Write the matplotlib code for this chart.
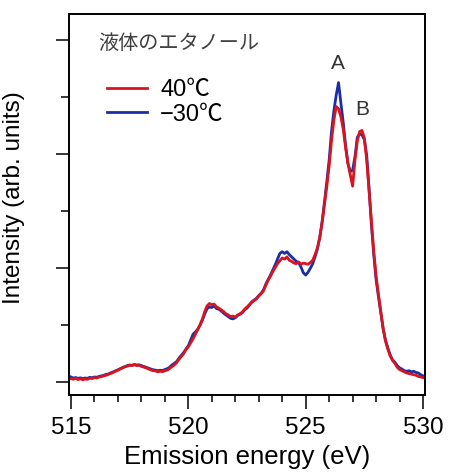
import numpy as np
import matplotlib
matplotlib.use("Agg")
import matplotlib.pyplot as plt
from matplotlib.ticker import MultipleLocator

plt.rcParams['font.family'] = ['Liberation Sans', 'Noto Sans CJK JP', 'DejaVu Sans']

# energy grid, 0.1 eV steps (515 .. 530)
energy = np.linspace(515, 530, 151)

# 40 C spectrum
warm = [
    0.030, 0.025, 0.035, 0.022, 0.030, 0.020, 0.028, 0.024, 0.035, 0.030,
    0.040, 0.036, 0.045, 0.048, 0.055, 0.060, 0.068, 0.075, 0.085, 0.095,
    0.105, 0.115, 0.125, 0.135, 0.140, 0.148, 0.145, 0.152, 0.145, 0.148,
    0.138, 0.132, 0.125, 0.115, 0.108, 0.100, 0.098, 0.090, 0.095, 0.092,
    0.100, 0.105, 0.120, 0.135, 0.150, 0.170, 0.200, 0.225, 0.250, 0.285,
    0.310, 0.345, 0.380, 0.420, 0.460, 0.505, 0.555, 0.620, 0.670, 0.690,
    0.680, 0.685, 0.660, 0.650, 0.635, 0.620, 0.600, 0.590, 0.575, 0.580,
    0.570, 0.590, 0.600, 0.615, 0.640, 0.660, 0.680, 0.700, 0.715, 0.730,
    0.755, 0.775, 0.800, 0.850, 0.895, 0.930, 0.970, 1.005, 1.040, 1.065,
    1.090, 1.080, 1.100, 1.070, 1.060, 1.045, 1.040, 1.055, 1.035, 1.045,
    1.040, 1.035, 1.050, 1.070, 1.120, 1.180, 1.270, 1.400, 1.560, 1.720,
    1.900, 2.120, 2.300, 2.420, 2.400, 2.330, 2.220, 2.060, 1.920, 1.820,
    1.720, 1.950, 2.120, 2.200, 2.210, 2.140, 1.950, 1.680, 1.420, 1.150,
    0.930, 0.770, 0.620, 0.470, 0.360, 0.290, 0.230, 0.190, 0.165, 0.130,
    0.110, 0.100, 0.090, 0.080, 0.075, 0.070, 0.065, 0.060, 0.050, 0.045,
    0.040,
]

# -30 C spectrum
cold = [
    0.045, 0.035, 0.040, 0.032, 0.038, 0.030, 0.036, 0.033, 0.042, 0.038,
    0.045, 0.043, 0.050, 0.055, 0.060, 0.068, 0.072, 0.082, 0.090, 0.100,
    0.108, 0.118, 0.128, 0.136, 0.145, 0.150, 0.148, 0.155, 0.150, 0.152,
    0.145, 0.138, 0.130, 0.122, 0.115, 0.108, 0.105, 0.100, 0.104, 0.102,
    0.110, 0.118, 0.130, 0.150, 0.165, 0.180, 0.210, 0.235, 0.260, 0.290,
    0.320, 0.370, 0.420, 0.440, 0.465, 0.500, 0.545, 0.600, 0.645, 0.660,
    0.655, 0.670, 0.645, 0.640, 0.625, 0.605, 0.590, 0.575, 0.560, 0.555,
    0.565, 0.585, 0.595, 0.610, 0.635, 0.650, 0.675, 0.705, 0.720, 0.735,
    0.760, 0.780, 0.810, 0.860, 0.900, 0.940, 0.985, 1.030, 1.080, 1.130,
    1.145, 1.130, 1.145, 1.120, 1.100, 1.080, 1.060, 1.050, 1.010, 0.960,
    0.940, 0.965, 1.000, 1.040, 1.100, 1.170, 1.270, 1.410, 1.580, 1.760,
    1.950, 2.200, 2.380, 2.520, 2.630, 2.450, 2.280, 2.080, 1.920, 1.850,
    1.860, 1.980, 2.150, 2.180, 2.170, 2.130, 1.990, 1.700, 1.380, 1.120,
    0.900, 0.750, 0.610, 0.470, 0.370, 0.300, 0.240, 0.195, 0.175, 0.145,
    0.125, 0.115, 0.100, 0.095, 0.100, 0.090, 0.095, 0.085, 0.080, 0.065,
    0.055,
]

labels = ['40\u2103', '\u221230\u2103']

fig = plt.figure(figsize=(4.49, 4.76), dpi=100)
ax = fig.add_axes([0.1537, 0.170, 0.7929, 0.800])

l_cold, = ax.plot(energy, cold, color='#1c2ea6', lw=2.0)
l_warm, = ax.plot(energy, warm, color='#d9141e', lw=2.0)

ax.set_xlim(514.915, 530.085)
ax.set_ylim(-0.114, 3.23)

ax.xaxis.set_major_locator(MultipleLocator(5))
ax.xaxis.set_minor_locator(MultipleLocator(1))
ax.yaxis.set_major_locator(MultipleLocator(1))
ax.yaxis.set_minor_locator(MultipleLocator(0.5))
ax.set_yticklabels([])

ax.tick_params(axis='x', which='major', direction='out', length=10, width=1.1,
               labelsize=17.5, pad=6)
ax.tick_params(axis='x', which='minor', direction='out', length=5, width=1.1)
ax.tick_params(axis='y', which='major', direction='out', length=9.5, width=1.1)
ax.tick_params(axis='y', which='minor', direction='out', length=6, width=1.1)
for s in ax.spines.values():
    s.set_linewidth(1.4)

ax.set_xlabel('Emission energy (eV)', fontsize=18.5, labelpad=4)
ax.set_ylabel('Intensity (arb. units)', fontsize=17.5)
ax.yaxis.set_label_coords(-0.124, 0.518)

ax.text(0.081, 0.924, '液体のエタノール', transform=ax.transAxes, fontsize=14.5,
        color='#404040', va='center', ha='left')
ax.text(526.38, 2.80, 'A', fontsize=15, color='#333333', ha='center', va='center')
ax.text(527.40, 2.39, 'B', fontsize=15, color='#333333', ha='center', va='center')

ax.legend([l_warm, l_cold], labels, loc='upper left', bbox_to_anchor=(0.080, 0.854),
          borderaxespad=0, frameon=False, fontsize=17, handlelength=1.7,
          handletextpad=0.55, labelspacing=0.1)

fig.savefig('out.png', dpi=100)
